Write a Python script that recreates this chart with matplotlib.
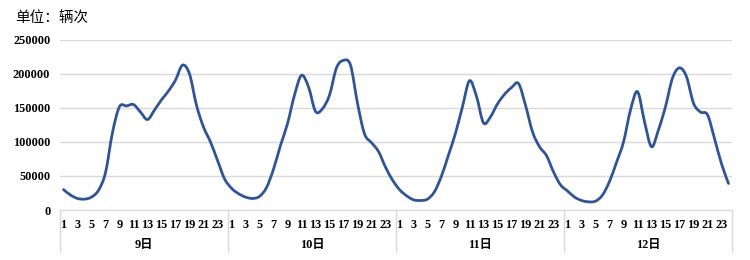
import matplotlib
matplotlib.use('Agg')
import matplotlib.pyplot as plt
from matplotlib.path import Path
from matplotlib.patches import PathPatch
import numpy as np

# 每小时车流量（辆次），9日-12日
day9 = [30000, 22000, 17000, 16000, 19000, 29000, 55000, 114000, 152000, 153000, 155000, 144000,
        133000, 147000, 162000, 175000, 191000, 213000, 200000, 154000, 122000, 100000, 73000, 46000]
day10 = [32000, 24000, 19000, 17000, 20000, 33000, 60000, 95000, 127000, 169000, 198000, 181000,
         145000, 149000, 169000, 209000, 220000, 213000, 157000, 112000, 99000, 86000, 63000, 44000]
day11 = [30000, 21000, 15000, 14000, 16000, 27000, 50000, 81000, 113000, 152000, 190000, 167000,
         128000, 137000, 156000, 170000, 180000, 186000, 154000, 115000, 93000, 80000, 56000, 37000]
day12 = [28000, 19000, 14000, 12000, 13000, 22000, 42000, 70000, 100000, 147000, 174000, 130000,
         93000, 118000, 152000, 194000, 209000, 196000, 157000, 144000, 140000, 105000, 68000, 39000]
days = ['9日', '10日', '11日', '12日']
hours = list(range(1, 25))
yticks = [0, 50000, 100000, 150000, 200000, 250000]

values = np.array(day9 + day10 + day11 + day12, dtype=float)
x = np.arange(len(values), dtype=float)

plt.rcParams['font.family'] = ['Liberation Serif', 'Noto Sans CJK SC']

fig = plt.figure(figsize=(7.5, 2.6), dpi=100)
ax = fig.add_axes([0.08, 0.1923, 0.896, 0.654])

# 平滑曲线（贝塞尔，类似 Excel 平滑线）
pts = np.column_stack([x, values])
ext = np.vstack([pts[0], pts, pts[-1]])
verts = [pts[0]]
codes = [Path.MOVETO]
for i in range(len(pts) - 1):
    p0, p1, p2, p3 = ext[i], ext[i + 1], ext[i + 2], ext[i + 3]
    c1 = p1 + (p2 - p0) / 6
    c2 = p2 - (p3 - p1) / 6
    verts += [c1, c2, p2]
    codes += [Path.CURVE4] * 3
ax.add_patch(PathPatch(Path(verts, codes), facecolor='none', edgecolor='#2F5597',
                       linewidth=2.0, capstyle='round', joinstyle='round'))

ax.set_xlim(-0.5, len(values) - 0.5)
ax.set_ylim(0, 250000)
ax.set_yticks(yticks)
ax.set_yticklabels([str(v) for v in yticks], fontsize=8.8, fontweight='bold')
ax.grid(axis='y', color='#D9D9D9', linewidth=1)
ax.set_axisbelow(True)

tick_pos = [d * 24 + h - 1 for d in range(len(days)) for h in hours if h % 2 == 1]
tick_lab = [str(h) for d in range(len(days)) for h in hours if h % 2 == 1]
ax.set_xticks(tick_pos)
ax.set_xticklabels(tick_lab, fontsize=8.8, fontweight='bold')
ax.tick_params(axis='both', length=0)
ax.tick_params(axis='y', pad=7)
ax.tick_params(axis='x', pad=6.5)

for s in ['top', 'right', 'left']:
    ax.spines[s].set_visible(False)
ax.spines['bottom'].set_color('#D9D9D9')

trans = ax.get_xaxis_transform()
for d in range(len(days) + 1):
    ax.plot([d * 24 - 0.5] * 2, [0, -0.245], transform=trans, color='#D9D9D9',
            linewidth=1, clip_on=False)
for d, lab in enumerate(days):
    ax.text(d * 24 + 11.5, -0.205, lab, transform=trans, ha='center', va='center',
            fontsize=8.8, fontweight='bold')

fig.text(0.02, 0.93, '单位：辆次', fontsize=10.5, ha='left', va='center',
         family=['Noto Sans CJK SC', 'DejaVu Sans'])

fig.savefig('out.png', dpi=100)
